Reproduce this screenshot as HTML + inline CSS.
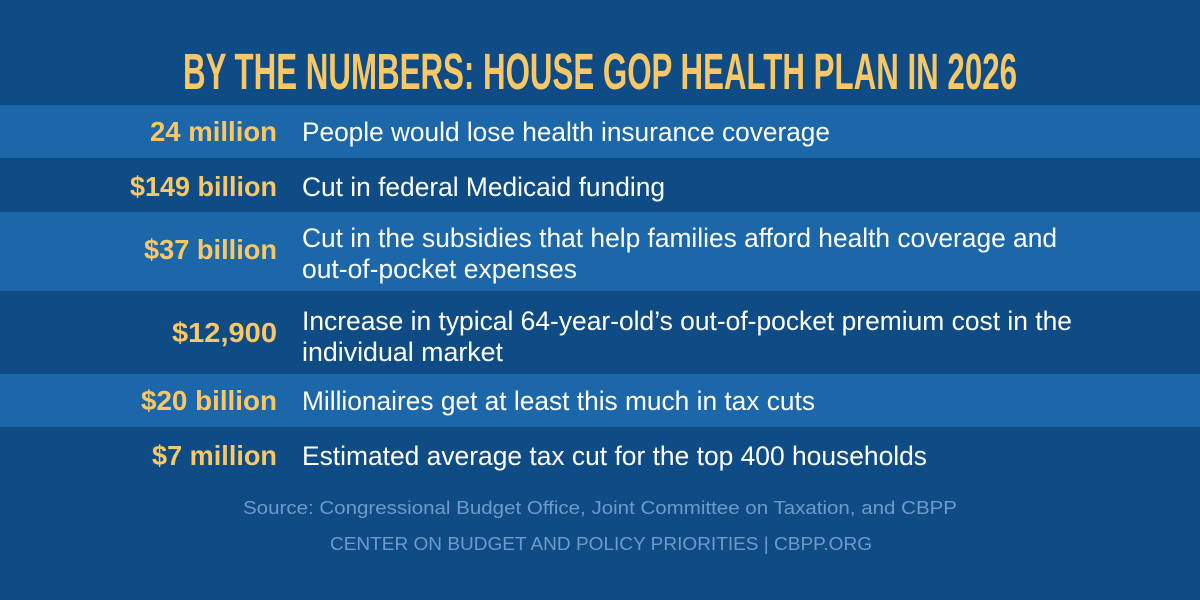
<!DOCTYPE html>
<html><head><meta charset="utf-8"><style>
body{margin:0;background:#0f4c85;}
svg{display:block}
.v{font-family:"Liberation Sans",sans-serif;font-weight:bold;fill:#f9c866;font-size:28px}
.d{font-family:"Liberation Sans",sans-serif;fill:#fff;font-size:27px}
</style></head><body>
<svg width="1200" height="600" viewBox="0 0 1200 600">
<rect width="1200" height="600" fill="#0f4c85"/>
<text x="183" y="89" textLength="834" lengthAdjust="spacingAndGlyphs" font-family="'Liberation Sans Narrow','Liberation Sans',sans-serif" font-weight="bold" font-size="51" fill="#f9c866">BY THE NUMBERS: HOUSE GOP HEALTH PLAN IN 2026</text>
<rect y="105" width="1200" height="53" fill="#1c67a9"/>
<rect y="212" width="1200" height="79" fill="#1c67a9"/>
<rect y="374" width="1200" height="53" fill="#1c67a9"/>

<text class="v" x="150" y="141" textLength="127" lengthAdjust="spacingAndGlyphs">24 million</text>
<text class="d" x="302" y="141" textLength="528" lengthAdjust="spacingAndGlyphs">People would lose health insurance coverage</text>

<text class="v" x="130" y="196" textLength="147" lengthAdjust="spacingAndGlyphs">$149 billion</text>
<text class="d" x="302" y="196" textLength="363" lengthAdjust="spacingAndGlyphs">Cut in federal Medicaid funding</text>

<text class="v" x="144" y="259" textLength="133" lengthAdjust="spacingAndGlyphs">$37 billion</text>
<text class="d" x="302" y="247" textLength="755" lengthAdjust="spacingAndGlyphs">Cut in the subsidies that help families afford health coverage and</text>
<text class="d" x="302" y="278" textLength="275" lengthAdjust="spacingAndGlyphs">out-of-pocket expenses</text>

<text class="v" x="172" y="342" textLength="105" lengthAdjust="spacingAndGlyphs">$12,900</text>
<text class="d" x="302" y="330" textLength="770" lengthAdjust="spacingAndGlyphs">Increase in typical 64-year-old’s out-of-pocket premium cost in the</text>
<text class="d" x="302" y="361" textLength="201" lengthAdjust="spacingAndGlyphs">individual market</text>

<text class="v" x="141" y="410" textLength="136" lengthAdjust="spacingAndGlyphs">$20 billion</text>
<text class="d" x="302" y="410" textLength="513" lengthAdjust="spacingAndGlyphs">Millionaires get at least this much in tax cuts</text>

<text class="v" x="152" y="465" textLength="125" lengthAdjust="spacingAndGlyphs">$7 million</text>
<text class="d" x="302" y="465" textLength="625" lengthAdjust="spacingAndGlyphs">Estimated average tax cut for the top 400 households</text>

<text x="243" y="514" textLength="714" lengthAdjust="spacingAndGlyphs" font-family="'Liberation Sans',sans-serif" font-size="18" fill="#6f9acb">Source: Congressional Budget Office, Joint Committee on Taxation, and CBPP</text>
<text x="330" y="550" textLength="542" lengthAdjust="spacingAndGlyphs" font-family="'Liberation Sans',sans-serif" font-size="18" fill="#6f9acb">CENTER ON BUDGET AND POLICY PRIORITIES | CBPP.ORG</text>
</svg>
</body></html>
